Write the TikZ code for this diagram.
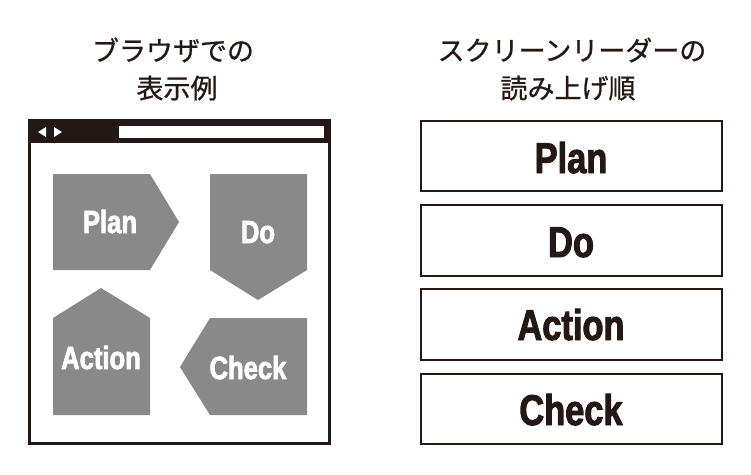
\documentclass[tikz,border=0pt]{standalone}
\usepackage{fontspec}
\newfontfamily\jpfont{Noto Sans CJK JP}[FakeBold=0.8]
\newfontfamily\condfont{Liberation Sans}[FakeStretch=0.8, BoldFeatures={FakeBold=2.2}]
\definecolor{ink}{HTML}{231815}
\definecolor{shape}{HTML}{898989}
\tikzset{
  title/.style={font=\jpfont\fontsize{27}{30}\selectfont, text=ink, inner sep=0pt, anchor=center},
  lbl/.style={font=\condfont\bfseries\fontsize{32}{36}\selectfont, text=white, inner sep=0pt, anchor=base},
  rlbl/.style={font=\condfont\bfseries\fontsize{43}{48}\selectfont, text=ink, inner sep=0pt, anchor=base},
  rbox/.style={draw=ink, line width=2.5pt, fill=white},
  pent/.style={fill=shape}
}
\begin{document}
\begin{tikzpicture}[x=1pt,y=-1pt]
\useasboundingbox (0,0) rectangle (751,474);
% titles
\node[title] (t1a) at (173,50) {ブラウザでの};
\node[title] (t1b) at (177,88) {表示例};
\node[title] (t2a) at (572,50) {スクリーンリーダーの};
\node[title] (t2b) at (568,88) {読み上げ順};
% browser frame
\draw[ink, line width=3pt] (29,120) rectangle (329,443);
\fill[ink] (27.5,118.5) rectangle (330.5,143);
\fill[white] (119,126) rectangle (324,138);
\fill[white] (38,132) -- (46,127) -- (46,137) -- cycle;
\fill[white] (62,132) -- (54,127) -- (54,137) -- cycle;
% shapes
\fill[pent] (53,174) -- (150,174) -- (179,222) -- (150,270) -- (53,270) -- cycle;
\fill[pent] (210,174) -- (307,174) -- (307,270) -- (258,300) -- (210,270) -- cycle;
\fill[pent] (53,318) -- (101,288) -- (150,318) -- (150,415) -- (53,415) -- cycle;
\fill[pent] (307,318) -- (210,318) -- (180,367) -- (210,415) -- (307,415) -- cycle;
\node[lbl] (lplan) at (110,233) {Plan};
\node[lbl] (ldo) at (258,243) {Do};
\node[lbl] (lact) at (101,369) {Action};
\node[lbl] (lchk) at (248,379) {Check};
% reading order
\draw[rbox] (421,121) rectangle (722,191);
\draw[rbox] (421,205) rectangle (722,276);
\draw[rbox] (421,289) rectangle (722,360);
\draw[rbox] (421,374) rectangle (722,444);
\node[rlbl] (rplan) at (571,173) {Plan};
\node[rlbl] (rdo) at (571,257) {Do};
\node[rlbl] (ract) at (571,340) {Action};
\node[rlbl] (rchk) at (571,425) {Check};
\end{tikzpicture}
\end{document}
